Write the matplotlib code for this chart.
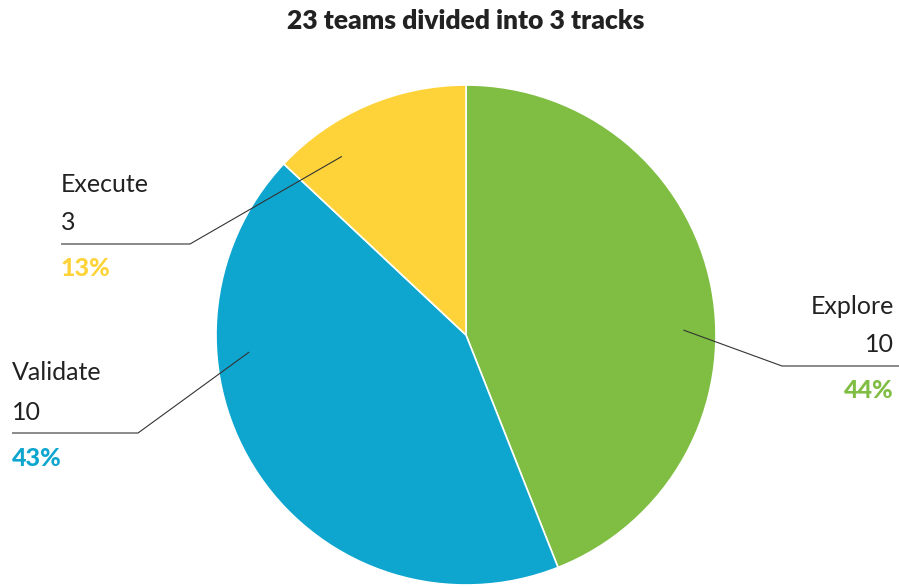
import numpy as np
import matplotlib
matplotlib.use("Agg")
import matplotlib.pyplot as plt

# ---- data ----
tracks = ["Explore", "Validate", "Execute"]
teams = [10, 10, 3]
percents = [44, 43, 13]
colors = ["#7fbe43", "#0ea6cf", "#fed33a"]
title = "23 teams divided into 3 tracks"

plt.rcParams["font.family"] = ["Lato", "DejaVu Sans"]

W, H = 899, 587
fig = plt.figure(figsize=(W / 100, H / 100), dpi=100)
ax = fig.add_axes([0, 0, 1, 1])

cx, cy, r = 466, H - 335, 250
ax.pie(percents, colors=colors, startangle=90, counterclock=False,
       center=(cx, cy), radius=r, frame=True,
       wedgeprops=dict(edgecolor="white", linewidth=1.2))
ax.set_xlim(0, W)
ax.set_ylim(0, H)
ax.set_aspect("equal")
ax.axis("off")

fig.text(466 / W, 1 - 21 / H, title, ha="center", va="center",
         fontsize=19, fontweight="heavy", color="#222222")

layouts = {
    "Explore": dict(ang=1.3, elbow=782, ly=366, lend=899, tx=894, ha="right"),
    "Validate": dict(ang=184.5, elbow=138, ly=433, lend=12, tx=12, ha="left"),
    "Execute": dict(ang=124.8, elbow=190, ly=244, lend=61, tx=61, ha="left"),
}
line_col = "#333333"
for name, n, p, c in zip(tracks, teams, percents, colors):
    L = layouts[name]
    a = np.deg2rad(L["ang"])
    ax0 = cx + 0.87 * r * np.cos(a)
    ay0 = cy + 0.87 * r * np.sin(a)
    ly = H - L["ly"]
    ax.plot([ax0, L["elbow"], L["lend"]], [ay0, ly, ly], color=line_col,
            linewidth=0.8, solid_capstyle="butt")
    ax.text(L["tx"], ly + 60, name, ha=L["ha"], va="center",
            fontsize=18, color="#222222")
    ax.text(L["tx"], ly + 21, str(n), ha=L["ha"], va="center",
            fontsize=18, color="#222222")
    ax.text(L["tx"], ly - 25, f"{p}%", ha=L["ha"], va="center",
            fontsize=18, fontweight="black", color=c)

fig.savefig("out.png", dpi=100, facecolor="white")
